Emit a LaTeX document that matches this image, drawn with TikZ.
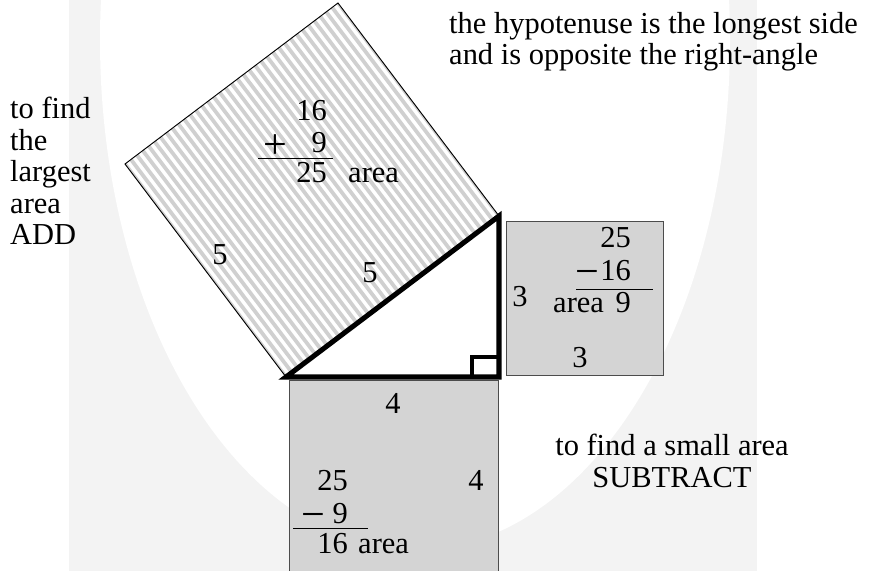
\documentclass[tikz,border=0pt]{standalone}
\usepackage{fontspec}
\setmainfont{Liberation Serif}
\usetikzlibrary{calc}
\definecolor{wmgray}{HTML}{F3F3F3}
\definecolor{boxgray}{HTML}{D4D4D4}
\definecolor{stripegray}{HTML}{D0D0D0}

\begin{document}
\begin{tikzpicture}[x=0.03cm, y=-0.03cm,
every node/.style={inner sep=0pt, font=\fontsize{26}{27}\selectfont},
num/.style={anchor=base},
sign/.style={anchor=base west, text depth=0pt, font=\fontsize{36}{36}\selectfont},
note/.style={align=left, anchor=base west},
sqbox/.style={fill=boxgray, draw=black!70, line width=0.8pt},
hypbox/.style={draw=black, line width=0.8pt},
stripe/.style={stripegray, line width=3.2pt},
leg/.style={line width=4.3pt, line join=miter},
sumrule/.style={line width=0.7pt}
    ]
  \useasboundingbox (0,0) rectangle (876,571);
  % faint watermark behind everything
  \fill[wmgray] (69,0) rectangle (757,571);
  \fill[white] (415,40) ellipse [x radius=315, y radius=510];

  \coordinate (A) at (286,377);
  \coordinate (C) at (499,377);
  \coordinate (B) at (499,216);
  \coordinate (D) at ($(B)+(-161,-213)$);
  \coordinate (E) at ($(A)+(-161,-213)$);

  % square on the hypotenuse
  \begin{scope}
    \clip (A) -- (B) -- (D) -- (E) -- cycle;
    \foreach \t in {0,...,36}
      \draw[stripe] ($(A)!\t/36!(B)$) -- ++(-170,-225);
  \end{scope}
  \draw[hypbox] (A) -- (B) -- (D) -- (E) -- cycle;

  % squares on the legs
  \draw[sqbox] (506,221) rectangle (663,375);
  \draw[sqbox] (289,380) rectangle (498,574);

  % the triangle
  \draw[leg] (A) -- (C) -- (B) -- cycle;
  \draw[line width=3pt] (472,377) |- (499,357);

  % hypotenuse square sum
  \node[num, anchor=base east] (h16) at (327,121) {16};
  \node[sign] (hplus) at (263,159) {+};
  \node[num, anchor=base east] (h9) at (327,153) {9};
  \draw[sumrule] (258,158) -- (333,158);
  \node[num, anchor=base east] (h25) at (327,183) {25};
  \node[num, anchor=base west] (harea) at (348,183) {area};
  \node (hside) at (220,255) {5};
  \node (hhyp) at (370,273) {5};

  % right square
  \node[num, anchor=base east] (r25) at (631,248) {25};
  \node[sign] (rminus) at (575,286) {−};
  \node[num, anchor=base east] (r16) at (631,281) {16};
  \draw[sumrule] (576,289) -- (653,289);
  \node[num, anchor=base west] (rarea) at (553,312) {area};
  \node[num, anchor=base east] (r9) at (631,312) {9};
  \node[num] (rleft) at (520,306) {3};
  \node[num] (rbot) at (580,367) {3};

  % bottom square
  \node[num] (btop) at (393,413) {4};
  \node[num] (bright) at (476,490) {4};
  \node[num, anchor=base east] (b25) at (348,490) {25};
  \node[sign] (bminus) at (301,528) {−};
  \node[num, anchor=base east] (b9) at (348,523) {9};
  \draw[sumrule] (293,528) -- (368,528);
  \node[num, anchor=base east] (b16) at (348,553) {16};
  \node[num, anchor=base west] (barea) at (358,553) {area};

  % notes (base is the last line)
  \node[note] (hypnote) at (449,65) {the hypotenuse is the longest side\\and is opposite the right-angle};
  \node[note] (addnote) at (10,245) {to find\\the\\largest\\area\\ADD};
  \node[note, align=center, anchor=base] (subnote) at (672,487) {to find a small area\\SUBTRACT};
\end{tikzpicture}
\end{document}
